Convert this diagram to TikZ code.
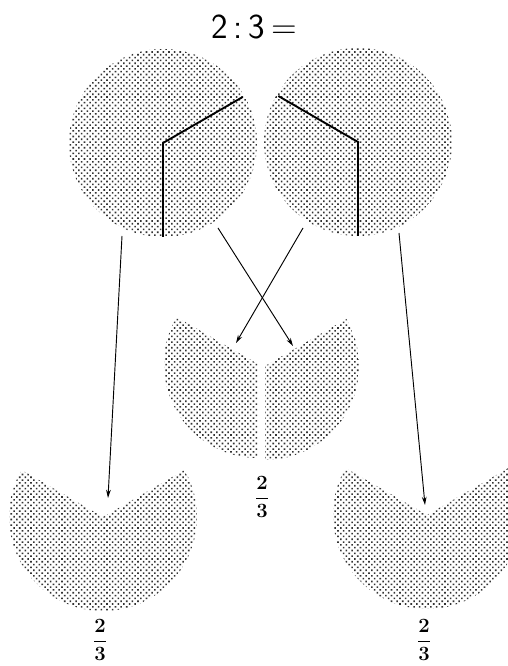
\documentclass[tikz,border=0pt]{standalone}
\usepackage{amsmath}
\usepackage{amssymb}
\usepackage{tikz}
\usetikzlibrary{patterns, patterns.meta, arrows.meta}

\begin{document}
\begin{tikzpicture}[x=0.03cm, y=0.03cm, >={Stealth[length=7pt, width=4pt]},
    manh/.style={pattern={Dots[distance=3.4pt, radius=0.95pt, angle=45]}, pattern color=black!80},
    cat/.style={line width=1.6pt, black},
    mui/.style={->, line width=0.8pt},
    phanso/.style={font=\fontsize{16}{16}\selectfont}]
            \clip (0,0) rectangle (508,666);
            % Tiêu đề
            \node (tieude) at (254,639) {\fontsize{30}{30}\selectfont\sffamily 2\,:\,3\,=};
            
            % Hai hình tròn và đường cắt
            \coordinate (L) at (163,523);
            \coordinate (R) at (358,524);
            \fill[manh] (L) circle (94);
            \fill[manh] (R) circle (94);
            \draw[cat] (L) ++(30:92) -- (L) -- ++(0,-94);
            \draw[cat] (R) ++(150:92) -- (R) -- ++(0,-94);
            
            % Hai mảnh 1/3 ở giữa
            \coordinate (G1) at (258,302);
            \coordinate (G2) at (265,300);
            \fill[manh] (G1) -- ++(150:94) arc[start angle=150, end angle=270, radius=94] -- cycle;
            \fill[manh] (G2) -- ++(-90:94) arc[start angle=-90, end angle=30, radius=94] -- cycle;
            
            % Hai mảnh 2/3 ở dưới
            \coordinate (D1) at (103,149);
            \coordinate (D2) at (427,151);
            \fill[manh] (D1) -- ++(150:94) arc[start angle=150, end angle=390, radius=94] -- cycle;
            \fill[manh] (D2) -- ++(150:94) arc[start angle=150, end angle=390, radius=94] -- cycle;
            
            % Mũi tên
            \coordinate (a1) at (122,430); \coordinate (b1) at (108,168);
            \coordinate (a2) at (218,438); \coordinate (b2) at (293,320);
            \coordinate (a3) at (303,438); \coordinate (b3) at (236,323);
            \coordinate (a4) at (399,433); \coordinate (b4) at (425,161);
            \draw[mui] (a1) -- (b1);
            \draw[mui] (a2) -- (b2);
            \draw[mui] (a3) -- (b3);
            \draw[mui] (a4) -- (b4);
            
            % Phân số
            \node[phanso] (ps1) at (262,169) {$\dfrac{\mathbf 2}{\mathbf 3}$};
            \node[phanso] (ps2) at (100,26) {$\dfrac{\mathbf 2}{\mathbf 3}$};
            \node[phanso] (ps3) at (424,26) {$\dfrac{\mathbf 2}{\mathbf 3}$};
        \end{tikzpicture}
\end{document}
